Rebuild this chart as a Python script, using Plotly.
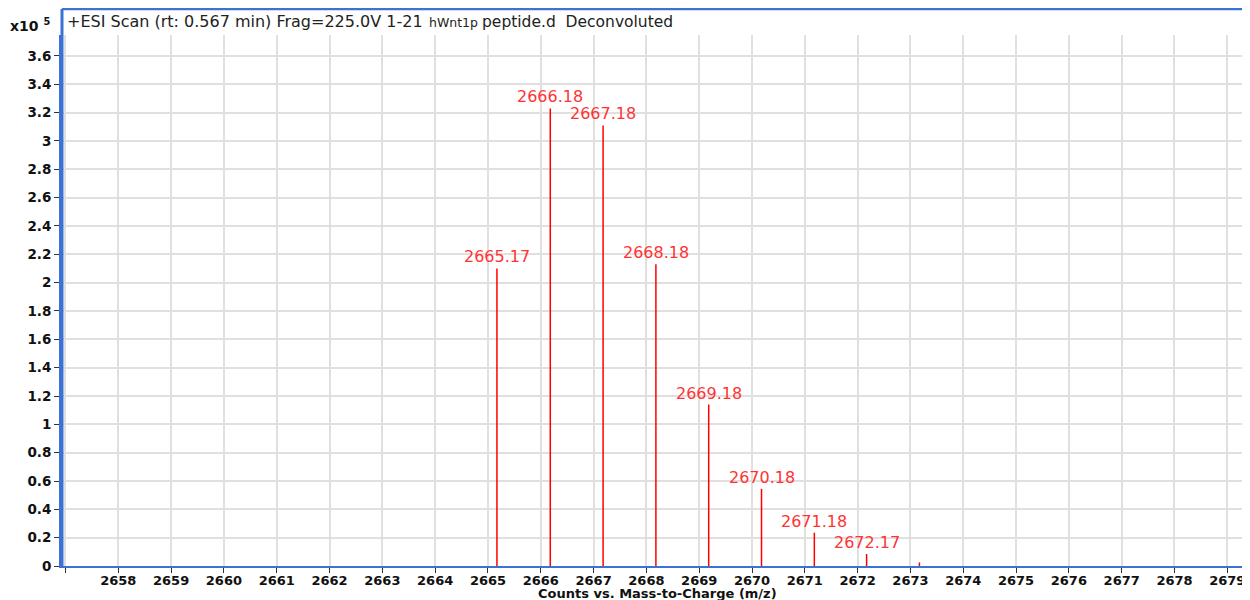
import plotly.graph_objects as go

# Data (intensity in units of x10^5 counts)
mz = [2665.17, 2666.18, 2667.18, 2668.18, 2669.18, 2670.18, 2671.18, 2672.17, 2673.17]
intensity = [2.10, 3.23, 3.11, 2.13, 1.14, 0.545, 0.235, 0.085, 0.025]
peak_labels = ["2665.17", "2666.18", "2667.18", "2668.18", "2669.18", "2670.18", "2671.18", "2672.17", ""]

x_ticks = list(range(2657, 2680))
x_ticktext = [""] + [str(v) for v in range(2658, 2680)]
y_ticks = [0, 0.2, 0.4, 0.6, 0.8, 1, 1.2, 1.4, 1.6, 1.8, 2, 2.2, 2.4, 2.6, 2.8, 3, 3.2, 3.4, 3.6]
y_ticktext = ["0", "0.2", "0.4", "0.6", "0.8", "1", "1.2", "1.4", "1.6", "1.8", "2", "2.2",
              "2.4", "2.6", "2.8", "3", "3.2", "3.4", "3.6"]

title_main = "+ESI Scan (rt: 0.567 min) Frag=225.0V 1-21"
title_sample = "hWnt1p"
title_rest = "peptide.d  Deconvoluted"
x_title = "Counts vs. Mass-to-Charge (m/z)"

# page offset of the figure (browser default body margin)
OFF = 8
PAGE_W, PAGE_H = 1250, 600
W, H = PAGE_W - OFF, PAGE_H - OFF
# plot area in page pixels: x 62..1250, y 35..566
L, R, T, B = 62 - OFF, 0, 35 - OFF, PAGE_H - 566
plot_w = W - L - R
plot_h = H - T - B

xs, ys = [], []
for m, v in zip(mz, intensity):
    xs += [m, m, None]
    ys += [0, v, None]

fig = go.Figure()
fig.add_trace(go.Scatter(x=xs, y=ys, mode="lines",
                         line=dict(color="#ff0000", width=1.5),
                         hoverinfo="skip", showlegend=False))

for m, v, t in zip(mz, intensity, peak_labels):
    if t:
        fig.add_annotation(x=m, y=v, text=t, showarrow=False, xanchor="center",
                           yanchor="bottom", yshift=0,
                           font=dict(family="DejaVu Sans", size=16, color="#ff3333"))

blue = "#3b72d4"

def px_to_paper_x(px):  # page pixel -> paper
    return (px - 62) / plot_w

def px_to_paper_y(py):
    return (566 - py) / plot_h

frame_top = px_to_paper_y(9)
fig.add_shape(type="line", xref="paper", yref="paper", x0=0, x1=1, y0=frame_top, y1=frame_top,
              line=dict(color=blue, width=2.5))
fig.add_shape(type="line", xref="paper", yref="paper", x0=0, x1=0, y0=0, y1=frame_top,
              line=dict(color=blue, width=3))

ty = px_to_paper_y(22)
fig.add_annotation(xref="paper", yref="paper", x=px_to_paper_x(65), y=ty, text=title_main,
                   showarrow=False, xanchor="left", yanchor="middle",
                   font=dict(family="DejaVu Sans", size=16, color="#222222"))
fig.add_annotation(xref="paper", yref="paper", x=px_to_paper_x(427), y=ty, yshift=-1, text=title_sample,
                   showarrow=False, xanchor="left", yanchor="middle",
                   font=dict(family="DejaVu Sans", size=12.5, color="#222222"))
fig.add_annotation(xref="paper", yref="paper", x=px_to_paper_x(480), y=ty, text=title_rest,
                   showarrow=False, xanchor="left", yanchor="middle",
                   font=dict(family="DejaVu Sans", size=15.5, color="#222222"))
fig.add_annotation(xref="paper", yref="paper", x=px_to_paper_x(8), y=px_to_paper_y(25),
                   text="x10 <sup>5</sup>", showarrow=False, xanchor="left", yanchor="middle",
                   font=dict(family="DejaVu Sans", size=14, color="#111111", weight="bold"))
fig.add_annotation(xref="paper", yref="paper", x=px_to_paper_x(657), y=px_to_paper_y(593.5),
                   text=x_title, showarrow=False, xanchor="center", yanchor="middle",
                   borderpad=0,
                   font=dict(family="DejaVu Sans", size=13, color="#111111", weight="bold"))

xr0 = 2658 - (118.3 - 62) / 52.81
xr1 = 2679 + (1250 - 1227.3) / 52.81
yr1 = plot_h / 141.67

fig.update_layout(
    template="none",
    width=W, height=H,
    margin=dict(l=L, r=R, t=T, b=B, pad=0, autoexpand=False),
    paper_bgcolor="white", plot_bgcolor="white",
    showlegend=False,
    xaxis=dict(range=[xr0, xr1], tickvals=x_ticks, ticktext=x_ticktext, automargin=False,
               showgrid=True, gridcolor="#e0e0e0", gridwidth=1.5, zeroline=False,
               showline=True, linecolor=blue, linewidth=2,
               ticks="outside", ticklen=5, tickcolor="#333333", tickwidth=1,
               ticklabelstandoff=-4,
               tickfont=dict(family="DejaVu Sans", size=13, color="#111111", weight="bold")),
    yaxis=dict(range=[0, yr1], tickvals=y_ticks, ticktext=y_ticktext, automargin=False,
               showgrid=True, gridcolor="#e0e0e0", gridwidth=1.5, zeroline=False,
               showline=True, linecolor=blue, linewidth=3,
               ticks="outside", ticklen=5, tickcolor="#333333", tickwidth=1,
               tickfont=dict(family="DejaVu Sans", size=13.5, color="#111111", weight="bold")),
)

fig.write_html("out.html")
